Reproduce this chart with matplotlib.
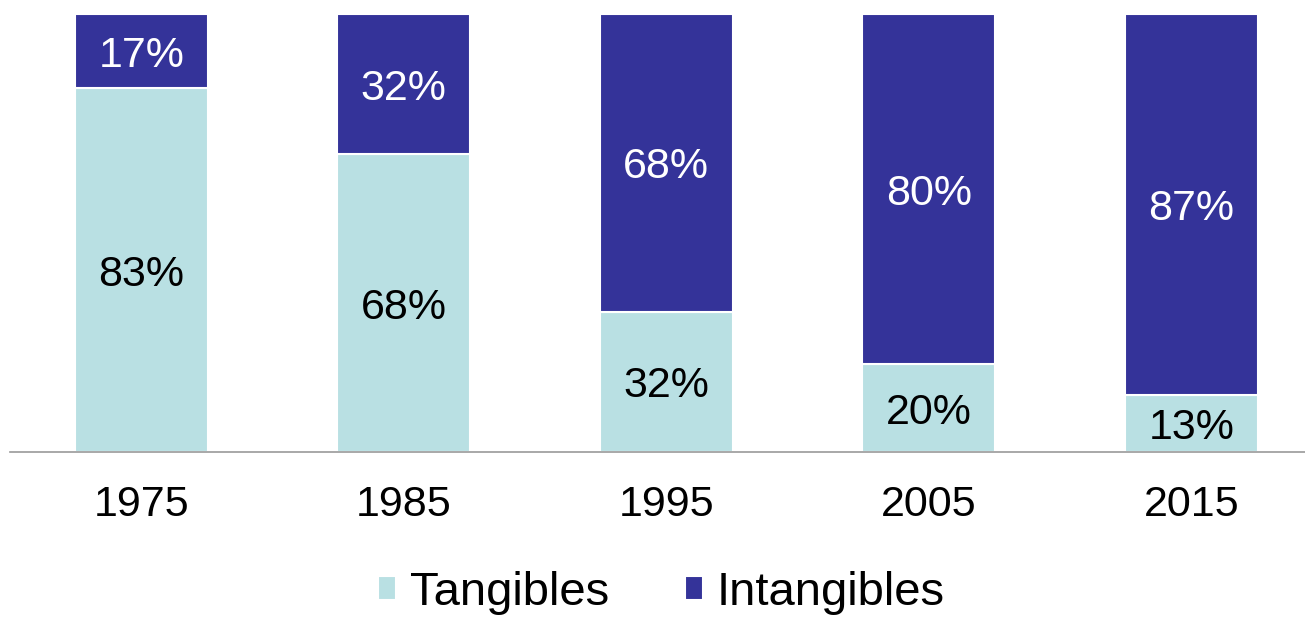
import matplotlib.pyplot as plt

years = ['1975', '1985', '1995', '2005', '2015']
tangibles = [83, 68, 32, 20, 13]
intangibles = [17, 32, 68, 80, 87]

c_tan = '#B9E0E3'
c_int = '#343399'

plt.rcParams['font.family'] = ['Liberation Sans', 'DejaVu Sans']

fig = plt.figure(figsize=(13.05, 6.19), dpi=100)
ax = fig.add_axes([10 / 1305, 1 - 452 / 619, 1 - 10 / 1305, (452 - 14) / 619])

x = range(len(years))
b1 = ax.bar(x, tangibles, width=0.507, color=c_tan, edgecolor='white', linewidth=1.5, label='Tangibles')
b2 = ax.bar(x, intangibles, bottom=tangibles, width=0.507, color=c_int, edgecolor='white',
            linewidth=1.5, label='Intangibles')

# percentage labels centred in each segment
fs = 31
for i in x:
    ax.text(i, tangibles[i] / 2, f'{tangibles[i]}%', ha='center', va='center_baseline',
            fontsize=fs, color='black')
    ax.text(i, tangibles[i] + intangibles[i] / 2, f'{intangibles[i]}%', ha='center',
            va='center_baseline', fontsize=fs, color='white')

ax.set_xlim(-0.5, 4.433)
ax.set_ylim(0, 100)
ax.set_xticks(list(x))
ax.set_xticklabels(years, fontsize=fs)
ax.tick_params(axis='x', length=0, pad=24)
ax.set_yticks([])
for s in ['top', 'right', 'left']:
    ax.spines[s].set_visible(False)
ax.spines['bottom'].set_color('#999999')
ax.spines['bottom'].set_linewidth(1.2)

fig.legend(handles=[b1, b2], loc='center', bbox_to_anchor=(0.507, 0.042), ncol=2, frameon=False,
           fontsize=34, handlelength=0.38, handleheight=0.38, handletextpad=0.3, columnspacing=1.6,
           borderpad=0.1)

fig.savefig('out.png', dpi=100)
